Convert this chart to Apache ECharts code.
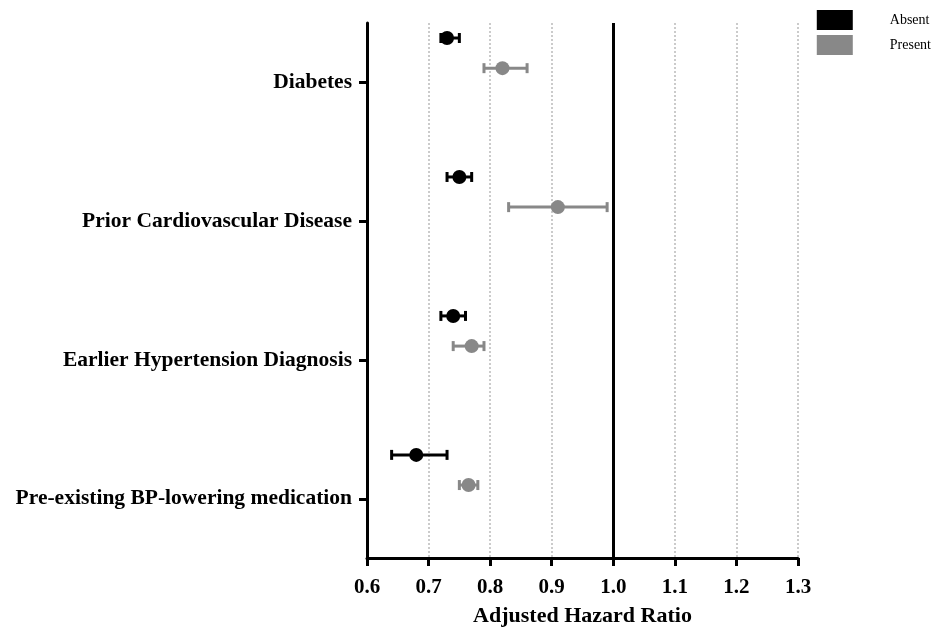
<!DOCTYPE html>
<html>
<head>
<meta charset="utf-8">
<script src="https://cdn.jsdelivr.net/npm/echarts@6/dist/echarts.min.js"></script>
<style>html,body{margin:0;padding:0;background:#fff}#c{width:938px;height:633px}</style>
</head>
<body>
<div id="c"></div>
<script>
// Categories listed top to bottom
var categories = ['Diabetes', 'Prior Cardiovascular Disease', 'Earlier Hypertension Diagnosis', 'Pre-existing BP-lowering medication'];
var seriesNames = ['Absent', 'Present'];
var absentHR   = [0.73, 0.75, 0.74, 0.68];
var absentLow  = [0.72, 0.73, 0.72, 0.64];
var absentHigh = [0.75, 0.77, 0.76, 0.73];
var presentHR   = [0.82, 0.91, 0.77, 0.765];
var presentLow  = [0.79, 0.83, 0.74, 0.75];
var presentHigh = [0.86, 0.99, 0.79, 0.78];
var xTicks = [0.6, 0.7, 0.8, 0.9, 1.0, 1.1, 1.2, 1.3];
var refValue = 1.0;

var SERIF = '"Liberation Serif","Times New Roman",serif';
var n = categories.length;
function pos(i) { return n - i; }            // category position on value y axis
var offA = 0.317, offP = 0.10;               // vertical offsets of the two groups (above tick)

function buildPoints(hr, lo, hi, off) {
  return hr.map(function (v, i) { return [v, pos(i) + off, lo[i], hi[i]]; });
}
var absentPts = buildPoints(absentHR, absentLow, absentHigh, offA);
var presentPts = buildPoints(presentHR, presentLow, presentHigh, offP);

function errRender(color) {
  return function (params, api) {
    var y = api.value(1);
    var a = api.coord([api.value(2), y]);
    var b = api.coord([api.value(3), y]);
    var h = 5;
    var st = { stroke: color, lineWidth: 3 };
    return {
      type: 'group',
      children: [
        { type: 'line', shape: { x1: a[0], y1: a[1], x2: b[0], y2: b[1] }, style: st },
        { type: 'line', shape: { x1: a[0], y1: a[1] - h, x2: a[0], y2: a[1] + h }, style: st },
        { type: 'line', shape: { x1: b[0], y1: b[1] - h, x2: b[0], y2: b[1] + h }, style: st }
      ]
    };
  };
}

var chart = echarts.init(document.getElementById('c'));
chart.setOption({
  animation: false,
  backgroundColor: '#fff',
  grid: { left: 367, right: 140, top: 23, bottom: 75, containLabel: false, outerBoundsMode: 'none' },
  legend: {
    orient: 'vertical', right: 7, top: 10, padding: 0,
    itemWidth: 36, itemHeight: 20, itemGap: 5,
    icon: 'rect',
    textStyle: { fontFamily: SERIF, fontSize: 14, color: '#000', padding: [0, 0, 0, 32] },
    data: [
      { name: 'Absent', itemStyle: { color: '#000' } },
      { name: 'Present', itemStyle: { color: '#888' } }
    ]
  },
  xAxis: {
    type: 'value', min: 0.6, max: 1.3, interval: 0.1,
    name: 'Adjusted Hazard Ratio', nameLocation: 'middle', nameGap: 47,
    nameTextStyle: { fontFamily: SERIF, fontWeight: 'bold', fontSize: 22, color: '#000' },
    axisLine: { show: true, onZero: false, lineStyle: { color: '#000', width: 3 } },
    axisTick: { show: true, length: 8, lineStyle: { color: '#000', width: 3 } },
    axisLabel: {
      fontFamily: SERIF, fontWeight: 'bold', fontSize: 21, color: '#000', margin: 19,
      formatter: function (v) { return v.toFixed(1); }
    },
    splitLine: { show: true, lineStyle: { color: '#bbb', type: [2, 2], width: 1.5 } }
  },
  yAxis: {
    type: 'value', min: 0.575, max: 4.425,
    axisLine: { show: true, onZero: false, lineStyle: { color: '#000', width: 3 } },
    axisTick: { show: true, length: 8, customValues: [1, 2, 3, 4], lineStyle: { color: '#000', width: 3 } },
    axisLabel: {
      fontFamily: SERIF, fontWeight: 'bold', fontSize: 21.5, color: '#000', margin: 15,
      customValues: [1, 2, 3, 4],
      formatter: function (v) { var i = n - Math.round(v); return categories[i] || ''; }
    },
    splitLine: { show: false }
  },
  series: [
    {
      type: 'custom', name: 'AbsentErr', renderItem: errRender('#000'),
      data: absentPts, encode: { x: [2, 3], y: 1 }, z: 3, silent: true,
      markLine: {
        silent: true, symbol: 'none', label: { show: false },
        lineStyle: { color: '#000', width: 3, type: 'solid' },
        data: [{ xAxis: refValue }]
      }
    },
    {
      type: 'custom', name: 'PresentErr', renderItem: errRender('#888'),
      data: presentPts, encode: { x: [2, 3], y: 1 }, z: 3, silent: true
    },
    {
      type: 'scatter', name: seriesNames[0], data: absentPts.map(function (p) { return [p[0], p[1]]; }),
      symbol: 'circle', symbolSize: 14, itemStyle: { color: '#000', opacity: 1 }, z: 4
    },
    {
      type: 'scatter', name: seriesNames[1], data: presentPts.map(function (p) { return [p[0], p[1]]; }),
      symbol: 'circle', symbolSize: 14, itemStyle: { color: '#888', opacity: 1 }, z: 4
    }
  ]
});
</script>
</body>
</html>
